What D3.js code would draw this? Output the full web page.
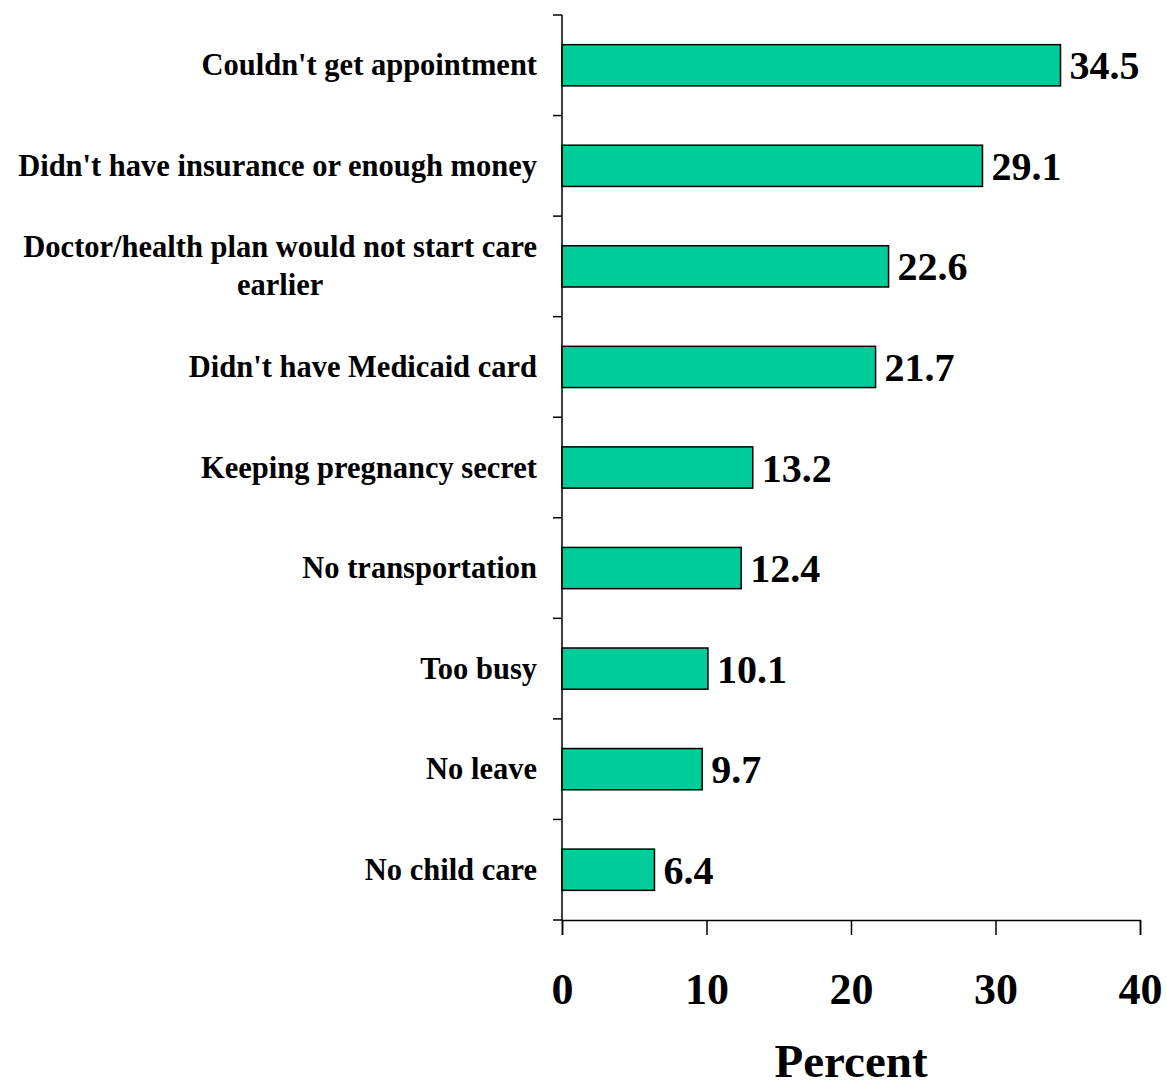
<!DOCTYPE html>
<html><head><meta charset="utf-8">
<script src="https://cdn.jsdelivr.net/npm/d3@7"></script>
<style>body{margin:0;background:#fff}svg{display:block}text{font-family:"Liberation Serif","Times New Roman",serif;font-weight:bold;fill:#000}</style>
</head><body>
<script>
const categories = [
  ["Couldn't get appointment"],
  ["Didn't have insurance or enough money"],
  ["Doctor/health plan would not start care", "earlier"],
  ["Didn't have Medicaid card"],
  ["Keeping pregnancy secret"],
  ["No transportation"],
  ["Too busy"],
  ["No leave"],
  ["No child care"]
];
const values = [34.5, 29.1, 22.6, 21.7, 13.2, 12.4, 10.1, 9.7, 6.4];
const xTicks = [0, 10, 20, 30, 40];
const xTitle = "Percent";

const W = 1167, H = 1086;
const svg = d3.select("body").append("svg").attr("width", W).attr("height", H);
const keys = categories.map((c, i) => i);
const x = d3.scaleLinear().domain([0, 40]).range([562, 1140]);
const y = d3.scaleBand().domain(keys).range([15, 920]).padding(0);
const barH = y.bandwidth() * 0.41;

// bars
svg.selectAll("rect.bar").data(values).join("rect")
  .attr("class", "bar")
  .attr("x", x(0))
  .attr("y", (d, i) => y(i) + (y.bandwidth() - barH) / 2)
  .attr("width", d => x(d) - x(0))
  .attr("height", barH)
  .attr("fill", "#00CC99")
  .attr("stroke", "#000")
  .attr("stroke-width", 1.5);

// value labels
svg.selectAll("text.val").data(values).join("text")
  .attr("class", "val")
  .attr("x", d => x(d) + 9)
  .attr("y", (d, i) => y(i) + y.bandwidth() / 2 + 14)
  .attr("font-size", 40)
  .text(d => d.toFixed(1));

// y axis line + ticks at band boundaries
const boundaries = keys.map(k => y(k)).concat([y.range()[1]]);
svg.append("line").attr("x1", x(0)).attr("x2", x(0)).attr("y1", 15).attr("y2", 920)
  .attr("stroke", "#000").attr("stroke-width", 1.5);
svg.selectAll("line.ytick").data(boundaries).join("line")
  .attr("class", "ytick")
  .attr("x1", x(0) - 9).attr("x2", x(0))
  .attr("y1", d => d).attr("y2", d => d)
  .attr("stroke", "#000").attr("stroke-width", 1.5);

// x axis
const xAxis = svg.append("g").attr("transform", "translate(0,920)")
  .call(d3.axisBottom(x).tickValues(xTicks).tickSize(15).tickPadding(38).tickFormat(d3.format("d")));
xAxis.select(".domain").attr("stroke", "#000").attr("stroke-width", 1.5);
xAxis.selectAll(".tick line").attr("stroke", "#000").attr("stroke-width", 1.5);
xAxis.selectAll(".tick text")
  .attr("font-family", '"Liberation Serif","Times New Roman",serif')
  .attr("font-weight", "bold").attr("font-size", 44).attr("fill", "#000")
  .attr("dy", "0.71em");

// category labels
const fs = 30.5;
const lineH = 38;
categories.forEach((lines, i) => {
  const cy = y(i) + y.bandwidth() / 2;
  const n = lines.length;
  const t = svg.append("text").attr("font-size", fs).attr("text-anchor", "middle");
  const tmp = svg.append("text").attr("font-size", fs);
  let maxW = 0;
  lines.forEach(l => { tmp.text(l); maxW = Math.max(maxW, tmp.node().getComputedTextLength()); });
  tmp.remove();
  const cx = 537 - maxW / 2;
  lines.forEach((l, j) => {
    t.append("tspan").attr("x", cx)
      .attr("y", cy + 10 + (j - (n - 1) / 2) * lineH)
      .text(l);
  });
});

// x title
svg.append("text").attr("x", (x(0) + x(40)) / 2).attr("y", 1077)
  .attr("text-anchor", "middle").attr("font-size", 47).text(xTitle);
</script>
</body></html>
